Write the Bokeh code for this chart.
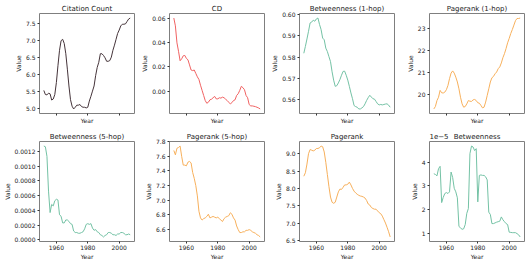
from bokeh.plotting import figure
from bokeh.layouts import gridplot
from bokeh.models import Range1d, FixedTicker, NumeralTickFormatter, LinearAxis
from bokeh.embed import file_html
from bokeh.resources import INLINE

years = list(range(1952, 2008))
x_ticks = [1960, 1980, 2000]

citation_count = [5.54, 5.42, 5.41, 5.46, 5.44, 5.26, 5.29, 5.42, 5.77, 6.26,
                  6.71, 6.99, 7.03, 6.91, 6.61, 6.16, 5.67, 5.27, 5.08, 5.00,
                  5.05, 5.11, 5.11, 5.13, 5.07, 5.05, 5.05, 5.03, 5.05, 5.23,
                  5.37, 5.52, 5.67, 5.97, 6.21, 6.36, 6.61, 6.61, 6.56, 6.49,
                  6.39, 6.39, 6.41, 6.51, 6.71, 6.86, 7.03, 7.20, 7.30, 7.42,
                  7.47, 7.47, 7.48, 7.55, 7.62, 7.65]
cd = [0.0600, 0.0536, 0.0396, 0.0327, 0.0249, 0.0265, 0.0290, 0.0293, 0.0268, 0.0257,
      0.0215, 0.0173, 0.0168, 0.0173, 0.0145, 0.0117, 0.0095, 0.0048, 0.0006, -0.0036,
      -0.0078, -0.0100, -0.0092, -0.0072, -0.0067, -0.0055, -0.0044, -0.0064, -0.0064, -0.0055,
      -0.0058, -0.0050, -0.0055, -0.0067, -0.0078, -0.0092, -0.0106, -0.0095, -0.0078, -0.0072,
      -0.0036, -0.0022, 0.0006, 0.0039, 0.0028, 0.0011, -0.0036, -0.0055, -0.0111, -0.0122,
      -0.0122, -0.0125, -0.0128, -0.0133, -0.0139, -0.0147]
betweenness_1hop = [0.5818, 0.5850, 0.5885, 0.5921, 0.5960, 0.5964, 0.5973, 0.5968, 0.5979, 0.5983,
                    0.5953, 0.5929, 0.5889, 0.5881, 0.5842, 0.5826, 0.5802, 0.5779, 0.5731, 0.5692,
                    0.5663, 0.5666, 0.5679, 0.5695, 0.5715, 0.5733, 0.5734, 0.5715, 0.5692, 0.5663,
                    0.5632, 0.5605, 0.5573, 0.5568, 0.5565, 0.5557, 0.5557, 0.5562, 0.5568, 0.5581,
                    0.5597, 0.5610, 0.5621, 0.5613, 0.5605, 0.5603, 0.5592, 0.5581, 0.5576, 0.5578,
                    0.5576, 0.5578, 0.5580, 0.5581, 0.5575, 0.5565]
pagerank_1hop = [19.36, 19.47, 19.74, 19.89, 20.20, 20.09, 20.08, 20.12, 20.23, 20.42,
                 20.73, 20.98, 21.08, 20.98, 20.80, 20.58, 20.27, 19.89, 19.59, 19.44,
                 19.47, 19.59, 19.74, 19.71, 19.70, 19.77, 19.79, 19.74, 19.64, 19.62,
                 19.52, 19.41, 19.44, 19.67, 19.97, 20.27, 20.58, 20.77, 20.83, 20.95,
                 21.03, 21.18, 21.26, 21.44, 21.68, 21.86, 22.09, 22.35, 22.55, 22.77,
                 22.95, 23.15, 23.35, 23.45, 23.45, 23.47]
betweenness_5hop = [0.00127, 0.00126, 0.00113, 0.00066, 0.00037, 0.00048, 0.00046, 0.00053, 0.00055, 0.00054,
                    0.00034, 0.00032, 0.00023, 0.00023, 0.00027, 0.00027, 0.00025, 0.00022, 0.00021, 0.00012,
                    0.00010, 0.00010, 0.00009, 0.00009, 0.00010, 0.00011, 0.00015, 0.00021, 0.00022, 0.00021,
                    0.00022, 0.00016, 0.00013, 0.00014, 0.00011, 0.00010, 0.00007, 0.00006, 0.00004, 0.00006,
                    0.00007, 0.00010, 0.00010, 0.00009, 0.00007, 0.00007, 0.00006, 0.00008, 0.00008, 0.00010,
                    0.00010, 0.00009, 0.00007, 0.00007, 0.00008, 0.00007]
pagerank_5hop = [7.68, 7.62, 7.71, 7.72, 7.74, 7.60, 7.48, 7.48, 7.47, 7.52,
                 7.53, 7.51, 7.38, 7.30, 7.20, 7.06, 6.85, 6.76, 6.73, 6.75,
                 6.76, 6.78, 6.81, 6.76, 6.77, 6.78, 6.77, 6.76, 6.77, 6.75,
                 6.73, 6.71, 6.75, 6.77, 6.78, 6.79, 6.83, 6.81, 6.76, 6.73,
                 6.65, 6.60, 6.56, 6.56, 6.57, 6.57, 6.59, 6.59, 6.60, 6.59,
                 6.57, 6.56, 6.55, 6.53, 6.52, 6.50]
pagerank = [8.35, 8.45, 8.70, 9.00, 9.12, 9.10, 9.08, 9.10, 9.15, 9.15,
            9.17, 9.22, 9.20, 9.05, 8.75, 8.40, 8.05, 7.75, 7.60, 7.57,
            7.60, 7.75, 7.90, 7.98, 7.97, 8.03, 8.10, 8.10, 8.12, 8.18,
            8.10, 8.00, 7.92, 7.87, 7.83, 7.80, 7.78, 7.77, 7.75, 7.72,
            7.65, 7.55, 7.52, 7.45, 7.42, 7.40, 7.40, 7.35, 7.30, 7.27,
            7.20, 7.10, 7.00, 6.88, 6.75, 6.60]
# Betweenness in units of 1e-5
betweenness_e5 = [3.51, 3.48, 3.42, 3.72, 3.82, 2.30, 2.52, 2.68, 2.72, 2.68,
                  2.75, 3.58, 3.35, 2.90, 2.75, 2.50, 1.30, 1.24, 1.18, 1.20,
                  1.38, 1.85, 2.05, 4.35, 4.67, 4.63, 4.48, 4.56, 2.33, 3.44,
                  3.46, 3.44, 3.44, 3.38, 3.25, 1.90, 1.80, 1.42, 1.42, 1.45,
                  1.48, 1.50, 1.52, 1.70, 1.58, 1.50, 1.42, 1.38, 1.06, 1.05,
                  1.04, 1.04, 1.04, 1.00, 0.95, 0.86]
offset_text = "1e\u22125"

titles = ["Citation Count", "CD", "Betweenness (1-hop)", "Pagerank (1-hop)",
          "Betweenness (5-hop)", "Pagerank (5-hop)", "Pagerank", "Betweenness"]
series = [citation_count, cd, betweenness_1hop, pagerank_1hop,
          betweenness_5hop, pagerank_5hop, pagerank, betweenness_e5]
y_ticks = [[5.0, 5.5, 6.0, 6.5, 7.0, 7.5],
           [0.0, 0.02, 0.04, 0.06],
           [0.56, 0.57, 0.58, 0.59, 0.60],
           [20, 21, 22, 23],
           [0.0, 0.0002, 0.0004, 0.0006, 0.0008, 0.0010, 0.0012],
           [6.6, 6.8, 7.0, 7.2, 7.4, 7.6, 7.8],
           [6.5, 7.0, 7.5, 8.0, 8.5, 9.0],
           [1, 2, 3, 4]]
y_formats = ["0.0", "0.00", "0.00", "0", "0.0000", "0.0", "0.0", "0"]
colors = ["#45343a", "#f06262", "#74c2a5", "#f7b05c",
          "#74c2a5", "#f7b05c", "#f7b05c", "#74c2a5"]

FONT = "DejaVu Sans"
TXT = "#1a1a1a"
FRAME_W, FRAME_H = 95, 100
lefts = [39, 31, 31, 31]
rights = [4, 4, 4, 5]
tops = [13, 14]
bottoms = [14, 20]


def pad(vals, frac=0.05):
    lo, hi = min(vals), max(vals)
    m = (hi - lo) * frac
    return lo - m, hi + m


def style_axis(ax):
    ax.axis_line_color = None
    ax.major_tick_in = 0
    ax.major_tick_out = 2
    ax.major_tick_line_color = "#333333"
    ax.minor_tick_line_color = None
    ax.major_label_text_font = FONT
    ax.major_label_text_font_size = "6px"
    ax.major_label_text_color = TXT
    ax.axis_label_text_font = FONT
    ax.axis_label_text_font_size = "6px"
    ax.axis_label_text_font_style = "normal"
    ax.axis_label_text_color = TXT
    ax.major_label_standoff = 2
    ax.axis_label_standoff = 1


x_lo, x_hi = pad(years)
rows = []
for r in range(2):
    row_figs = []
    for c in range(4):
        i = r * 4 + c
        ys = series[i]
        y_lo, y_hi = pad(ys)
        p = figure(frame_width=FRAME_W, frame_height=FRAME_H, output_backend="svg",
                   toolbar_location=None,
                   x_range=Range1d(x_lo, x_hi), y_range=Range1d(y_lo, y_hi),
                   min_border_left=lefts[c], min_border_right=rights[c],
                   min_border_top=tops[r], min_border_bottom=bottoms[r],
                   background_fill_color="white", border_fill_color="white")
        p.line(years, ys, line_color=colors[i], line_width=1)
        p.title.text = titles[i]
        p.title.text_font = FONT
        p.title.text_font_size = "7px"
        p.title.text_font_style = "normal"
        p.title.text_color = TXT
        p.title.align = "center"
        p.title.standoff = 2
        p.outline_line_color = "#7f7f7f"
        p.outline_line_width = 1
        p.grid.visible = False
        style_axis(p.xaxis[0])
        style_axis(p.yaxis[0])
        p.xaxis.axis_label = "Year"
        p.yaxis.axis_label = "Value"
        p.xaxis.ticker = FixedTicker(ticks=x_ticks)
        p.yaxis.ticker = FixedTicker(ticks=y_ticks[i])
        p.yaxis.formatter = NumeralTickFormatter(format=y_formats[i])
        if r == 0:
            # shared x axis: tick marks only, no tick labels
            p.xaxis.major_label_text_color = None
            p.xaxis.major_label_standoff = 0
        else:
            p.xaxis.major_label_standoff = 1
            p.xaxis.axis_label_standoff = 0
        if i == 7:
            # title line carrying the matplotlib-style offset text "1e-5" at the
            # left edge and the panel title at the centre
            p.title.visible = False
            off_x = x_lo + 9.5 * (x_hi - x_lo) / FRAME_W
            mid_x = (x_lo + x_hi) / 2
            top_ax = LinearAxis(ticker=FixedTicker(ticks=[off_x, mid_x]),
                                major_label_overrides={off_x: offset_text,
                                                       mid_x: titles[i]})
            top_ax.axis_line_color = None
            top_ax.major_tick_line_color = None
            top_ax.major_tick_in = 0
            top_ax.major_tick_out = 0
            top_ax.minor_tick_line_color = None
            top_ax.major_label_text_font = FONT
            top_ax.major_label_text_font_size = "7px"
            top_ax.major_label_text_color = TXT
            top_ax.major_label_standoff = 1
            p.add_layout(top_ax, "above")
        row_figs.append(p)
    rows.append(row_figs)

grid = gridplot(rows, toolbar_location=None)

open("out.html", "w").write(file_html(grid, INLINE))
